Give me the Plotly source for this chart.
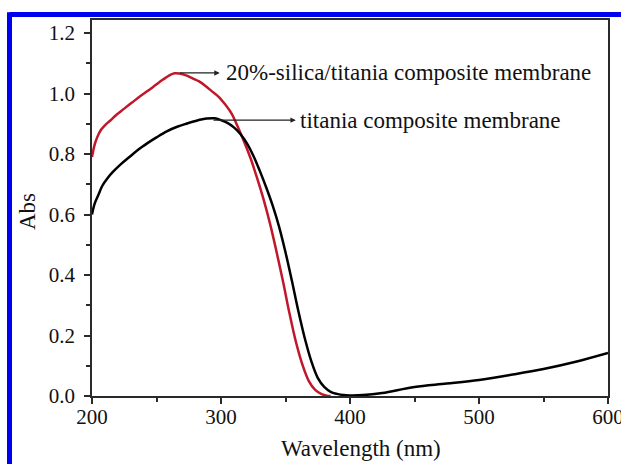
import plotly.graph_objects as go

# Data
wl_silica = [200, 202, 204, 207, 210, 214, 219, 225, 231, 237, 243, 249, 255, 260, 264, 268, 273, 278, 283, 288, 293, 298, 303, 308, 313, 318, 323, 328, 333, 338, 343, 348, 353, 358, 363, 368, 373, 378, 382, 385]
abs_silica = [0.79, 0.83, 0.855, 0.88, 0.895, 0.91, 0.93, 0.95, 0.97, 0.99, 1.008, 1.027, 1.046, 1.06, 1.067, 1.066, 1.06, 1.05, 1.04, 1.025, 1.007, 0.99, 0.965, 0.935, 0.89, 0.84, 0.785, 0.72, 0.65, 0.57, 0.478, 0.38, 0.275, 0.18, 0.105, 0.05, 0.02, 0.006, 0.001, 0.0]

wl_titania = [200, 202, 205, 208, 212, 216, 222, 229, 236, 243, 250, 258, 266, 273, 281, 289, 295, 300, 305, 310, 315, 320, 325, 330, 335, 340, 345, 350, 355, 360, 365, 370, 375, 380, 385, 390, 395, 400, 410, 425, 450, 475, 500, 525, 550, 575, 600]
abs_titania = [0.60, 0.635, 0.665, 0.695, 0.72, 0.74, 0.765, 0.79, 0.815, 0.836, 0.855, 0.875, 0.89, 0.90, 0.91, 0.917, 0.918, 0.912, 0.903, 0.888, 0.866, 0.836, 0.795, 0.745, 0.69, 0.63, 0.56, 0.475, 0.38, 0.28, 0.19, 0.115, 0.06, 0.03, 0.014, 0.007, 0.003, 0.002, 0.003, 0.01, 0.03, 0.041, 0.053, 0.07, 0.089, 0.113, 0.142]

label_silica = "20%-silica/titania composite membrane"
label_titania = "titania composite membrane"
x_title = "Wavelength (nm)"
y_title = "Abs"

x_ticks = [200, 300, 400, 500, 600]
y_ticks = [0.0, 0.2, 0.4, 0.6, 0.8, 1.0, 1.2]

FONT = "'Liberation Serif', 'Times New Roman', Times, serif"
AXC = "#2a2a2a"
TXT = "#111111"

fig = go.Figure()
fig.add_trace(go.Scatter(x=wl_silica, y=abs_silica, mode="lines",
                         line=dict(color="#c0182a", width=2.5, shape="spline", smoothing=1.0),
                         name=label_silica, showlegend=False))
fig.add_trace(go.Scatter(x=wl_titania, y=abs_titania, mode="lines",
                         line=dict(color="#000000", width=2.5, shape="spline", smoothing=1.0),
                         name=label_titania, showlegend=False))

W, H = 621, 464
ml, mr, mt, mb = 92, 13, 20, 68
pw, ph = W - ml - mr, H - mt - mb

def px_to_paper_x(px):
    return (px - ml) / pw

def py_to_paper_y(py):
    return (H - mb - py) / ph

annotations = [
    dict(x=299, y=1.068, ax=267, ay=1.068, xref="x", yref="y", axref="x", ayref="y",
         text="", showarrow=True, arrowhead=2, arrowsize=0.9, arrowwidth=1.2, arrowcolor="#222"),
    dict(x=358, y=0.912, ax=293, ay=0.912, xref="x", yref="y", axref="x", ayref="y",
         text="", showarrow=True, arrowhead=2, arrowsize=0.9, arrowwidth=1.2, arrowcolor="#222"),
    dict(x=302, y=1.068, xref="x", yref="y", text=label_silica, showarrow=False,
         xanchor="left", yanchor="middle", font=dict(family=FONT, size=23, color=TXT)),
    dict(x=360, y=0.912, xref="x", yref="y", text=label_titania, showarrow=False,
         xanchor="left", yanchor="middle", font=dict(family=FONT, size=23, color=TXT)),
    dict(x=px_to_paper_x(361), y=py_to_paper_y(448), xref="paper", yref="paper",
         text=x_title, showarrow=False, xanchor="center", yanchor="middle",
         font=dict(family=FONT, size=23, color=TXT)),
    dict(x=px_to_paper_x(27), y=py_to_paper_y(212), xref="paper", yref="paper",
         text=y_title, showarrow=False, xanchor="center", yanchor="middle", textangle=-90,
         font=dict(family=FONT, size=23, color=TXT)),
]

border_x = px_to_paper_x(9.5)
border_y = py_to_paper_y(14.5)
shapes = [
    dict(type="line", xref="paper", yref="paper", x0=border_x, x1=border_x,
         y0=py_to_paper_y(470), y1=border_y + 0.006, line=dict(color="#0000f0", width=5)),
    dict(type="line", xref="paper", yref="paper", x0=border_x, x1=px_to_paper_x(630),
         y0=border_y, y1=border_y, line=dict(color="#0000f0", width=5)),
]

fig.update_layout(
    width=W, height=H,
    margin=dict(l=ml, r=mr, t=mt, b=mb),
    paper_bgcolor="white", plot_bgcolor="white",
    font=dict(family=FONT, color=TXT),
    annotations=annotations,
    shapes=shapes,
    showlegend=False,
)
fig.update_xaxes(
    range=[200, 600], tickvals=x_ticks, ticktext=[str(v) for v in x_ticks],
    showgrid=False, zeroline=False, showline=True, linecolor=AXC, linewidth=1.5, mirror=True,
    ticks="outside", ticklen=6, tickwidth=1.5, tickcolor=AXC,
    tickfont=dict(family=FONT, size=21, color=TXT), ticklabeloverflow="allow",
    ticklabelstandoff=-5,
    minor=dict(ticks="outside", ticklen=4, tickwidth=1.5, tickcolor=AXC, dtick=50, tick0=200, showgrid=False),
    automargin=False,
)
fig.update_yaxes(
    range=[0, 1.243], tickvals=y_ticks, ticktext=[f"{v:.1f}" for v in y_ticks],
    showgrid=False, zeroline=False, showline=True, linecolor=AXC, linewidth=1.5, mirror=True,
    ticks="outside", ticklen=6, tickwidth=1.5, tickcolor=AXC,
    tickfont=dict(family=FONT, size=21, color=TXT), ticklabelstandoff=5,
    minor=dict(ticks="outside", ticklen=4, tickwidth=1.5, tickcolor=AXC, dtick=0.1, tick0=0, showgrid=False),
    automargin=False,
)

fig.write_html("out.html")
